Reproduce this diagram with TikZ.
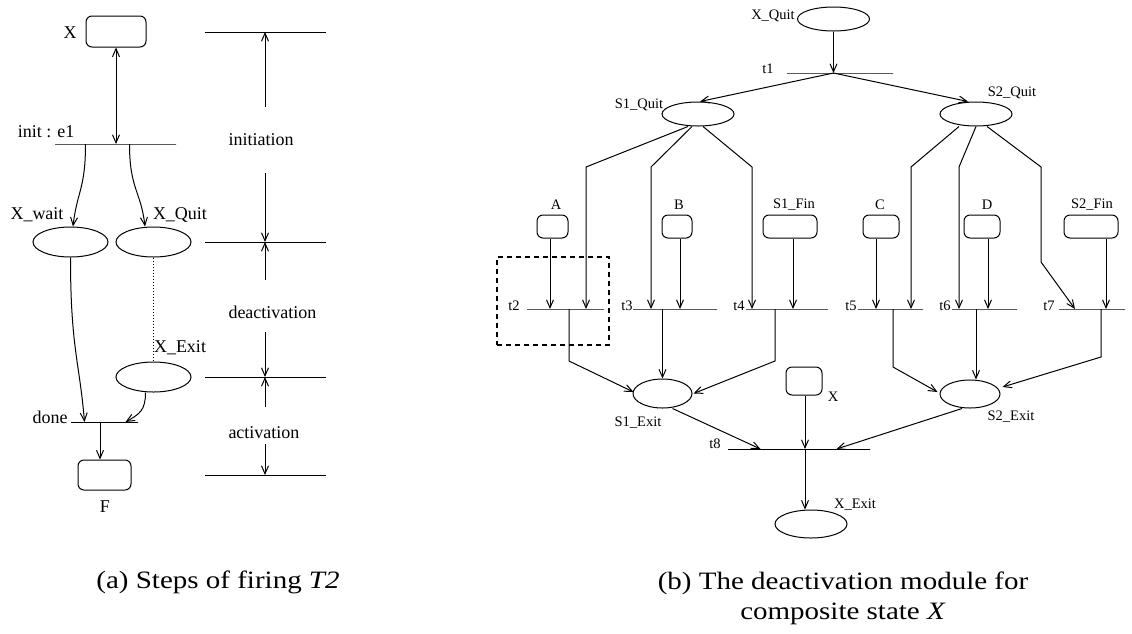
\documentclass[tikz,border=0pt]{standalone}
\usepackage{fontspec}
\usepackage{graphicx}
\setmainfont{Liberation Serif}
\usetikzlibrary{shapes.geometric,arrows.meta,calc}
\begin{document}
\begin{tikzpicture}[x=1pt,y=-1pt,line width=1pt,
  arr/.style={-{Straight Barb[length=8pt,width=7pt]}},
  darr/.style={{Straight Barb[length=8pt,width=7pt]}-{Straight Barb[length=8pt,width=7pt]}},
  sbox/.style 2 args={draw,rounded corners=6pt,minimum width=#1,minimum height=#2,inner sep=0pt},
  ell/.style 2 args={draw,ellipse,minimum width=#1,minimum height=#2,inner sep=0pt},
  tbar/.style={draw,minimum width=#1,minimum height=0pt,inner sep=0pt},
  lbl/.style={font=\fontsize{18}{20}\selectfont,inner sep=0pt},
  rlbl/.style={font=\fontsize{14.5}{16}\selectfont,inner sep=0pt},
  captxt/.style={font=\fontsize{25}{30}\selectfont,inner sep=0pt}]
\useasboundingbox (0,0) rectangle (1132,633);

% ---------------- (a) left diagram ----------------
\node[sbox={60pt}{31pt}] (X) at (116,31.5) {};
\node[lbl] (Xl) at (70,33) {X};
\node[tbar=121pt] (init) at (115.5,144) {};
\node[lbl] (initl) at (46,132) {init : e1};
\node[ell={75pt}{30pt}] (Xwait) at (70.5,242) {};
\node[ell={75pt}{30pt}] (XQuitA) at (153.5,242) {};
\node[lbl] (Xwaitl) at (37,215) {X\_wait};
\node[lbl] (XQuitAl) at (180,215) {X\_Quit};
\node[ell={75pt}{30pt}] (XExitA) at (153.5,377) {};
\node[lbl] (XExitAl) at (180,348) {X\_Exit};
\node[tbar=67pt] (done) at (104.5,422) {};
\node[lbl] (donel) at (50,417) {done};
\node[sbox={53pt}{30pt}] (F) at (104.5,475) {};
\node[lbl] (Fl) at (105,507) {F};

\draw[darr] (X.south) -- (X.south |- init);
\draw[arr] ($(init.west)+(31,0)$) .. controls +(0,45) and +(4,-35) .. ($(Xwait.north)+(2.5,0)$);
\draw[arr] ($(init.west)+(75,0)$) .. controls +(0,45) and +(-4,-35) .. ($(XQuitA.north)+(-8.5,0)$);
\draw[arr] (Xwait.south) .. controls +(0,90) and +(-5,-60) .. ($(done.west)+(14,0)$);
\draw[arr] ($(XExitA.south)+(-8,0)$) .. controls +(0,18) and +(14,-8) .. ($(done.east)+(-13,0)$);
\draw[dash pattern=on 1.5pt off 1.5pt] (XQuitA.south) -- (XExitA.north);
\coordinate (fin) at ($(F.north)+(-4.5,0)$);
\draw[arr] (fin |- done) -- (fin);

% phase scale
\coordinate (m1) at (265,32);
\coordinate (m2) at (265,242);
\coordinate (m3) at (265,377);
\coordinate (m4) at (265,475);
\foreach \m in {m1,m2,m3,m4}{\draw ($(\m)+(-60,0)$) -- ($(\m)+(61,0)$);}
\node[lbl,anchor=west] (ini) at (228,140) {initiation};
\node[lbl,anchor=west] (dea) at (228,312) {deactivation};
\node[lbl,anchor=west] (act) at (228,433) {activation};
\draw[arr] ($(m1)+(0,75)$) -- (m1);
\draw[arr] ($(m2)+(0,-69)$) -- (m2);
\draw[arr] ($(m2)+(0,38)$) -- (m2);
\draw[arr] ($(m3)+(0,-45)$) -- (m3);
\draw[arr] ($(m3)+(0,30)$) -- (m3);
\draw[arr] ($(m4)+(0,-31)$) -- (m4);

% ---------------- (b) right diagram ----------------
\node[ell={72pt}{24pt}] (XQuit) at (833.5,19) {};
\node[rlbl] (XQuitl) at (773,16) {X\_Quit};
\node[tbar=106pt] (t1) at (840,73) {};
\node[rlbl] (t1l) at (768,69) {t1};
\node[ell={72pt}{24pt}] (S1Quit) at (698,114) {};
\node[rlbl] (S1Quitl) at (639,105) {S1\_Quit};
\node[ell={72pt}{24pt}] (S2Quit) at (976,114) {};
\node[rlbl] (S2Quitl) at (1012,93) {S2\_Quit};

\coordinate (j1) at (XQuit.south |- t1);
\draw[arr] (XQuit.south) -- (j1);
\draw[arr] (j1) -- ($(S1Quit.north)+(2,0)$);
\draw[arr] (j1) -- ($(S2Quit.north)+(-8,0)$);

% boxes
\node[sbox={31pt}{23pt}] (A) at (552.5,226.5) {};
\node[sbox={30pt}{23pt}] (B) at (677,226.5) {};
\node[sbox={54pt}{23pt}] (S1Fin) at (790,226.5) {};
\node[sbox={36pt}{23pt}] (C) at (881,226.5) {};
\node[sbox={36pt}{23pt}] (D) at (982,226.5) {};
\node[sbox={54pt}{23pt}] (S2Fin) at (1091,226.5) {};
\node[rlbl] (Al) at (556,205) {A};
\node[rlbl] (Bl) at (679,205) {B};
\node[rlbl] (S1Finl) at (794,205) {S1\_Fin};
\node[rlbl] (Cl) at (880,205) {C};
\node[rlbl] (Dl) at (987,205) {D};
\node[rlbl] (S2Finl) at (1092,205) {S2\_Fin};

% transitions
\node[tbar=77pt] (t2) at (565.5,309) {};
\node[tbar=84pt] (t3) at (675,309) {};
\node[tbar=82pt] (t4) at (787,309) {};
\node[tbar=65pt] (t5) at (890.5,309) {};
\node[tbar=65pt] (t6) at (984.5,309) {};
\node[tbar=66pt] (t7) at (1092,309) {};
\node[rlbl] (t2l) at (514,306) {t2};
\node[rlbl] (t3l) at (627,306) {t3};
\node[rlbl] (t4l) at (739,306) {t4};
\node[rlbl] (t5l) at (851,306) {t5};
\node[rlbl] (t6l) at (945,306) {t6};
\node[rlbl] (t7l) at (1049,306) {t7};

\node[draw,line width=1.6pt,dash pattern=on 5pt off 4pt,minimum width=112pt,minimum height=88pt,inner sep=0pt] (hl) at (553,301) {};

\coordinate (knee) at (0,167);
\coordinate (e2) at ($(t2.center)+(20.5,0)$);
\coordinate (e3) at ($(t3.center)+(-24,0)$);
\coordinate (e4) at ($(t4.center)+(-35,0)$);
\coordinate (e5) at ($(t5.center)+(20.5,0)$);
\coordinate (e6) at ($(t6.center)+(-25.5,0)$);
\coordinate (e7) at ($(t7.center)+(-17,0)$);
\coordinate (k7) at (1041,262);

\draw[arr] ($(S1Quit.south)+(-10,0)$) -- (e2 |- knee) -- (e2);
\draw[arr] ($(S1Quit.south)+(-6,0)$) -- (e3 |- knee) -- (e3);
\draw[arr] ($(S1Quit.south)+(5,0)$) -- (e4 |- knee) -- (e4);
\draw[arr] ($(S2Quit.south)+(-17,0)$) -- (e5 |- knee) -- (e5);
\draw[arr] ($(S2Quit.south)+(0,0)$) -- (e6 |- knee) -- (e6);
\draw[arr] ($(S2Quit.south)+(11,0)$) -- (k7 |- knee) -- (k7) -- (e7);

\coordinate (a1) at ($(A.south)+(-2.5,0)$);
\coordinate (b1) at ($(B.south)+(3,0)$);
\coordinate (f1) at ($(S1Fin.south)+(3,0)$);
\coordinate (c1) at ($(C.south)+(-5,0)$);
\coordinate (d1) at ($(D.south)+(6,0)$);
\coordinate (f2) at ($(S2Fin.south)+(15,0)$);
\draw[arr] (a1) -- (a1 |- t2);
\draw[arr] (b1) -- (b1 |- t3);
\draw[arr] (f1) -- (f1 |- t4);
\draw[arr] (c1) -- (c1 |- t5);
\draw[arr] (d1) -- (d1 |- t6);
\draw[arr] (f2) -- (f2 |- t7);

% exits
\node[ell={59pt}{29pt}] (S1Exit) at (662.5,393.5) {};
\node[rlbl] (S1Exitl) at (638,423) {S1\_Exit};
\node[ell={60pt}{28pt}] (S2Exit) at (970,394) {};
\node[rlbl] (S2Exitl) at (1011,417) {S2\_Exit};
\node[sbox={36pt}{28pt}] (Xbox) at (804,381) {};
\node[rlbl] (Xboxl) at (833,397) {X};
\node[tbar=142pt] (t8) at (799,449) {};
\node[rlbl] (t8l) at (715,444) {t8};
\node[ell={72pt}{28pt}] (XExit) at (811,524) {};
\node[rlbl] (XExitl) at (855,505) {X\_Exit};

\coordinate (low1) at (0,361);
\coordinate (low2) at (0,367);
\coordinate (low3) at (0,357);
\coordinate (o2) at ($(t2.center)+(3.5,0)$);
\coordinate (o4) at ($(t4.center)+(-12,0)$);
\coordinate (o5) at ($(t5.center)+(2.5,0)$);
\coordinate (o6) at ($(S2Exit.north)+(6,0)$);
\coordinate (o7) at ($(t7.center)+(9,0)$);
\draw[arr] (o2) -- (o2 |- low1) -- ($(S1Exit.west)+(1,-1.5)$);
\draw[arr] (S1Exit.north |- t3) -- (S1Exit.north);
\draw[arr] (o4) -- (o4 |- low1) -- ($(S1Exit.east)+(1,0)$);
\draw[arr] (o5) -- (o5 |- low2) -- ($(S2Exit.west)+(-2,-2)$);
\draw[arr] (o6 |- t6) -- (o6);
\draw[arr] (o7) -- (o7 |- low3) -- ($(S2Exit.east)+(2,-7)$);

\coordinate (xj) at ($(Xbox.south)+(1,0)$);
\draw[arr] ($(S1Exit.south)+(10,0)$) -- ($(t8.west)+(33,0)$);
\draw[arr] ($(S2Exit.south)+(-8,0)$) -- ($(t8.east)+(-34,0)$);
\draw[arr] (xj) -- (xj |- t8);
\draw[arr] (xj |- t8) -- (xj |- XExit.north);

% captions
\node[captxt,anchor=base] (capa) at (218,588) {\scalebox{1.16}[1]{(a) Steps of firing \textit{T2}}};
\node[captxt,align=center] (capb) at (843,598) {\scalebox{1.16}[1]{(b) The deactivation module for}\\\scalebox{1.16}[1]{composite state \textit{X}}};
\end{tikzpicture}
\end{document}
